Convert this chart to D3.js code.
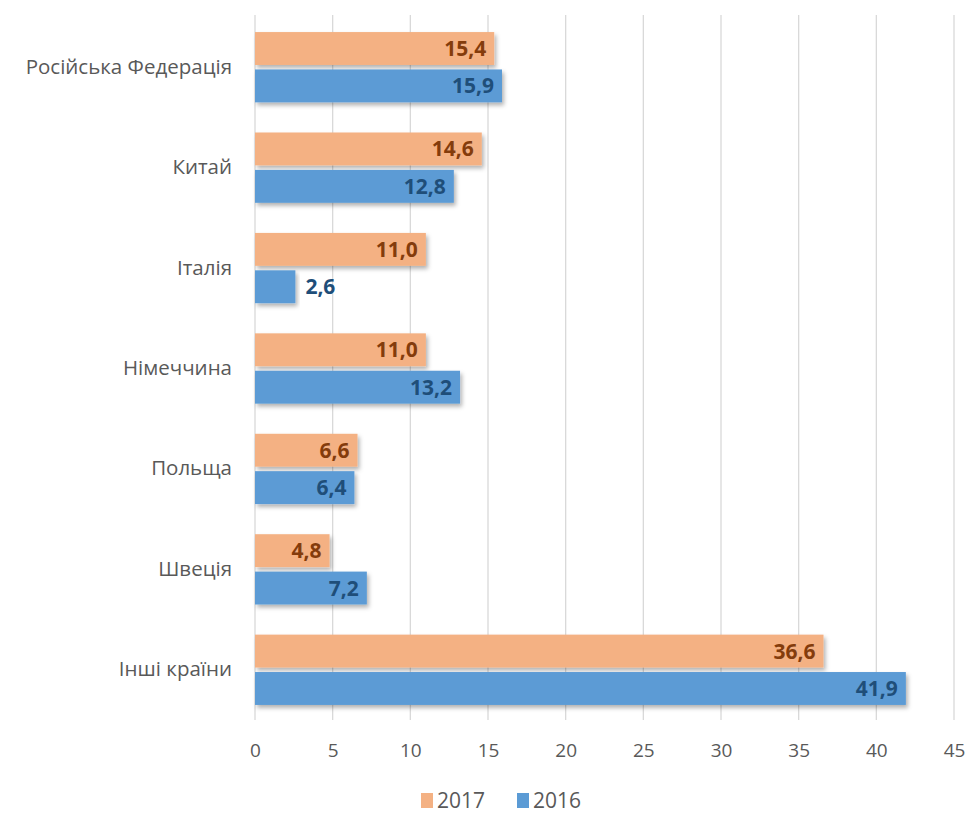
<!DOCTYPE html>
<html>
<head>
<meta charset="utf-8">
<script src="https://cdn.jsdelivr.net/npm/d3@7"></script>
<style>
  body { margin: 0; background: #fff; }
  svg { display: block; }
</style>
</head>
<body>
<svg id="chart"></svg>
<script>
// categories top to bottom, two series per category
const categories = ["Російська Федерація", "Китай", "Італія", "Німеччина", "Польща", "Швеція", "Інші країни"];
const series = ["2017", "2016"];
const values2017 = [15.4, 14.6, 11.0, 11.0, 6.6, 4.8, 36.6];
const values2016 = [15.9, 12.8, 2.6, 13.2, 6.4, 7.2, 41.9];
const xTicks = [0, 5, 10, 15, 20, 25, 30, 35, 40, 45];

const WIDTH = 968, HEIGHT = 816;
const margin = { top: 17, right: 14, bottom: 96, left: 255 };

const colors = { "2017": "#f4b183", "2016": "#5b9bd5" };
const labelColors = { "2017": "#843c0c", "2016": "#1f4e79" };

const rows = categories.map((c, i) => ({ cat: c, vals: [
  { s: "2017", v: values2017[i] }, { s: "2016", v: values2016[i] }
] }));

const svg = d3.select("#chart").attr("width", WIDTH).attr("height", HEIGHT);

const defs = svg.append("defs");
const shadow = defs.append("filter").attr("id", "shadow")
  .attr("x", "-5%").attr("y", "-20%").attr("width", "115%").attr("height", "160%");
shadow.append("feDropShadow").attr("dx", 2).attr("dy", 3).attr("stdDeviation", 2)
  .attr("flood-color", "#000").attr("flood-opacity", 0.3);

const x = d3.scaleLinear().domain([0, 45]).range([margin.left, WIDTH - margin.right]);
const y0 = d3.scaleBand().domain(categories).range([margin.top, HEIGHT - margin.bottom]).paddingInner(0.3).paddingOuter(0.15);
const y1 = d3.scaleBand().domain(series).range([0, y0.bandwidth()]).paddingInner(0.12);

// gridlines
svg.append("g").selectAll("line").data(xTicks).enter().append("line")
  .attr("x1", d => x(d)).attr("x2", d => x(d))
  .attr("y1", 15).attr("y2", HEIGHT - margin.bottom)
  .attr("stroke", "#d9d9d9").attr("stroke-width", 1.3);

// x axis labels
const xAxis = d3.axisBottom(x).tickValues(xTicks).tickSize(0).tickPadding(24);
const gx = svg.append("g").attr("transform", `translate(0,${HEIGHT - margin.bottom})`).call(xAxis);
gx.select(".domain").remove();
gx.selectAll("text").attr("font-family", "'Open Sans', sans-serif").attr("font-size", 19).attr("fill", "#595959");

// category labels
const yAxis = d3.axisLeft(y0).tickSize(0).tickPadding(23);
const gy = svg.append("g").attr("transform", `translate(${margin.left},0)`).call(yAxis);
gy.select(".domain").remove();
gy.selectAll("text").attr("font-family", "'Open Sans', sans-serif").attr("font-size", 20.5).attr("fill", "#595959");

// bars
const groups = svg.append("g").selectAll("g").data(rows).enter().append("g")
  .attr("transform", d => `translate(0,${y0(d.cat)})`);

groups.selectAll("rect").data(d => d.vals).enter().append("rect")
  .attr("x", x(0))
  .attr("y", d => y1(d.s))
  .attr("width", d => x(d.v) - x(0))
  .attr("height", y1.bandwidth())
  .attr("fill", d => colors[d.s])
  .attr("filter", "url(#shadow)");

// value labels: inside end, outside when the bar is too short
const fmt = v => v.toFixed(1).replace(".", ",");
groups.selectAll("text.val").data(d => d.vals).enter().append("text")
  .attr("class", "val")
  .attr("x", d => (x(d.v) - x(0) > 60) ? x(d.v) - 8 : x(d.v) + 10)
  .attr("text-anchor", d => (x(d.v) - x(0) > 60) ? "end" : "start")
  .attr("y", d => y1(d.s) + y1.bandwidth() / 2)
  .attr("dy", "0.36em")
  .attr("font-family", "'Open Sans', sans-serif")
  .attr("font-weight", "bold")
  .attr("font-size", 21)
  .attr("fill", d => labelColors[d.s])
  .text(d => fmt(d.v));

// legend
const legend = svg.append("g").attr("transform", `translate(421,${HEIGHT - 8})`);
series.forEach((s, i) => {
  const lg = legend.append("g").attr("transform", `translate(${i * 96},0)`);
  lg.append("rect").attr("x", 0).attr("y", -15).attr("width", 12).attr("height", 15).attr("fill", colors[s]);
  lg.append("text").attr("x", 16).attr("y", 0)
    .attr("font-family", "'Open Sans', sans-serif").attr("font-size", 21).attr("fill", "#595959")
    .text(s);
});
</script>
</body>
</html>
